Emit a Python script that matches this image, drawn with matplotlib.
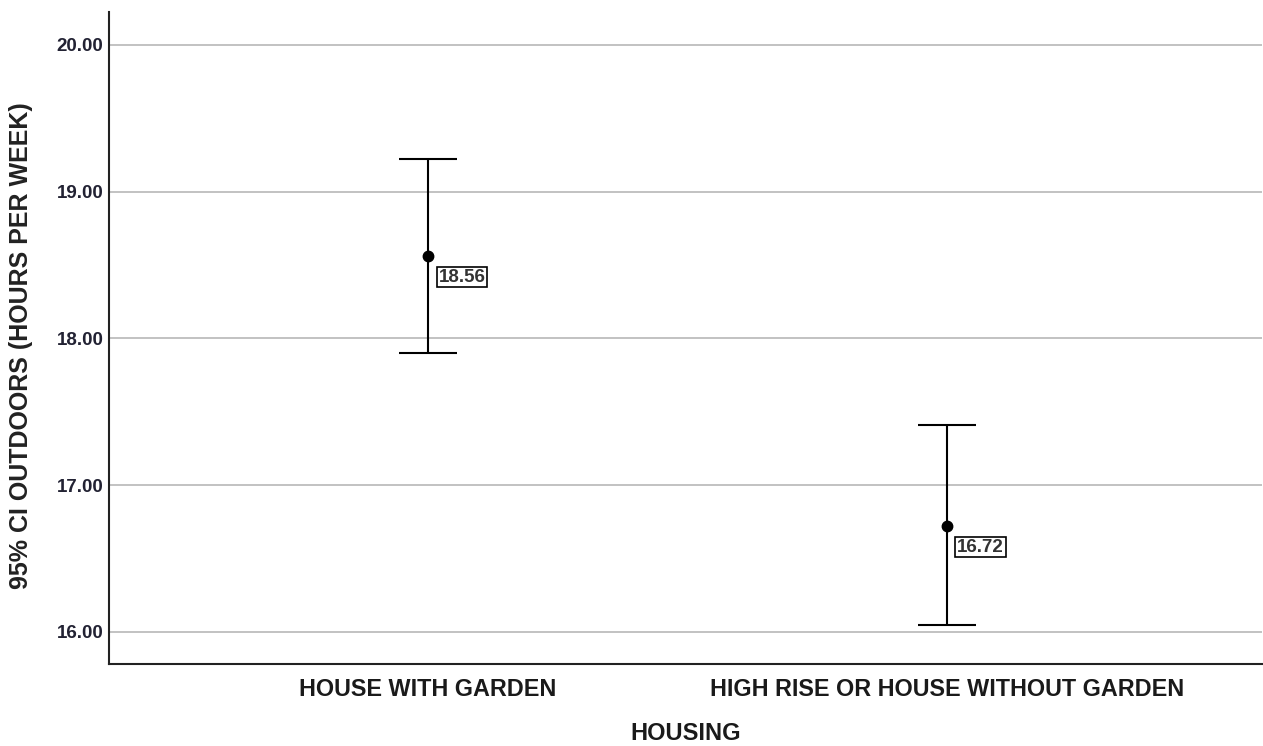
import matplotlib.pyplot as plt

categorias = ['HOUSE WITH GARDEN', 'HIGH RISE OR HOUSE WITHOUT GARDEN']
medias = [18.56, 16.72]
ic_inferior = [17.90, 16.05]
ic_superior = [19.22, 17.41]
ticks_y = [16.0, 17.0, 18.0, 19.0, 20.0]

fuente = 'Liberation Sans'

fig = plt.figure(figsize=(12.63, 7.46), dpi=100)
ax = fig.add_axes([0.0863, 0.110, 0.9127, 0.874])

x = list(range(len(categorias)))
err_abajo = [m - lo for m, lo in zip(medias, ic_inferior)]
err_arriba = [hi - m for m, hi in zip(medias, ic_superior)]
ax.errorbar(x, medias, yerr=[err_abajo, err_arriba], fmt='o', color='black',
            ecolor='black', elinewidth=1.5, capsize=21, capthick=1.5,
            markersize=7.5, zorder=3)

for xi, m in zip(x, medias):
    ax.annotate(f'{m:.2f}', (xi, m), xytext=(7.5, -15), textcoords='offset points',
                fontsize=13.5, fontweight='bold', color='#333333', family=fuente,
                va='center', ha='left',
                bbox=dict(boxstyle='square,pad=0.1', fc='white', ec='black', lw=1.2))

ax.set_xlim(-0.615, 1.607)
ax.set_ylim(15.782, 20.225)
ax.set_yticks(ticks_y)
ax.set_yticklabels([f'{t:.2f}' for t in ticks_y], fontsize=13.5, fontweight='bold',
                   color='#222233', family=fuente)
ax.set_xticks(x)
ax.set_xticklabels(categorias, fontsize=16.8, fontweight='bold', family=fuente, color='#1a1a1a')
ax.tick_params(axis='both', length=0)
ax.tick_params(axis='y', pad=4)
ax.tick_params(axis='x', pad=10)

ax.yaxis.grid(True, color='#b8b8b8', lw=1.2)
ax.set_axisbelow(True)
for lado in ['top', 'right']:
    ax.spines[lado].set_visible(False)
for lado in ['left', 'bottom']:
    ax.spines[lado].set_linewidth(1.5)
    ax.spines[lado].set_color('#222222')

ax.set_xlabel('HOUSING', fontsize=17, fontweight='bold', family=fuente, color='#1a1a1a',
              labelpad=15)
ax.set_ylabel('95% CI OUTDOORS (HOURS PER WEEK)', fontsize=18, fontweight='bold',
              family=fuente, color='#222222')
ax.yaxis.set_label_coords(-0.066, 0.488)

fig.savefig('out.png', dpi=100)
